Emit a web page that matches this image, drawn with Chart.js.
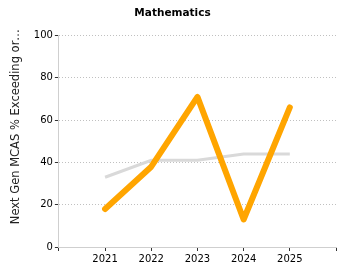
<!DOCTYPE html>
<html>
<head>
<meta charset="utf-8">
<script src="https://cdn.jsdelivr.net/npm/chart.js@4/dist/chart.umd.min.js"></script>
<style>
  html, body { margin: 0; padding: 0; background: #fff; }
  #wrap { width: 350px; height: 280px; }
</style>
</head>
<body>
<div id="wrap"><canvas id="mathChart" width="350" height="280"></canvas></div>
<script>
// categories (empty ones pad the ends like the original axis)
const years = ["", "2021", "2022", "2023", "2024", "2025", ""];
const schoolValues = [null, 18, 38, 71, 13, 66, null];
const stateValues = [null, 33, 41, 41, 44, 44, null];
const yTicks = [0, 20, 40, 60, 80, 100];

const ctx = document.getElementById("mathChart").getContext("2d");
const mathChart = new Chart(ctx, {
  type: "line",
  data: {
    labels: years,
    datasets: [
      {
        label: "School",
        data: schoolValues,
        borderColor: "#ffa500",
        borderWidth: 6,
        pointRadius: 0,
        borderCapStyle: "round",
        borderJoinStyle: "round",
        tension: 0
      },
      {
        label: "State",
        data: stateValues,
        borderColor: "#d9d9d9",
        borderWidth: 3,
        pointRadius: 0,
        tension: 0
      }
    ]
  },
  options: {
    responsive: false,
    animation: false,
    layout: { padding: { left: 9, right: 14, top: 0, bottom: 13 } },
    plugins: {
      legend: { display: false },
      tooltip: { enabled: false },
      title: {
        display: true,
        text: "Mathematics",
        color: "#000",
        font: { family: "DejaVu Sans", size: 10.5, weight: "bold" },
        padding: { top: 7, bottom: 16 }
      }
    },
    scales: {
      x: {
        offset: false,
        grid: { drawOnChartArea: false, drawTicks: true, tickLength: 4, color: "#333" },
        border: { color: "#cfcfcf" },
        ticks: {
          color: "#000",
          font: { family: "DejaVu Sans", size: 10 },
          maxRotation: 0,
          autoSkip: false,
          padding: 2
        }
      },
      y: {
        min: 0,
        max: 100,
        afterBuildTicks: (axis) => { axis.ticks = yTicks.map(v => ({ value: v })); },
        grid: {
          color: "#c0c0c0",
          tickBorderDash: [],
          tickColor: "#333",
          tickLength: 4
        },
        border: { color: "#cfcfcf", dash: [1, 2] },
        ticks: {
          color: "#000",
          font: { family: "DejaVu Sans", size: 10 },
          padding: 2
        },
        title: {
          display: true,
          text: "\u00a0\u00a0\u00a0\u00a0\u00a0\u00a0\u00a0\u00a0Next Gen MCAS % Exceeding or…",
          color: "#222",
          font: { family: "DejaVu Sans", size: 11.5 },
          padding: { top: 0, bottom: 9 }
        }
      }
    }
  }
});
</script>
</body>
</html>
